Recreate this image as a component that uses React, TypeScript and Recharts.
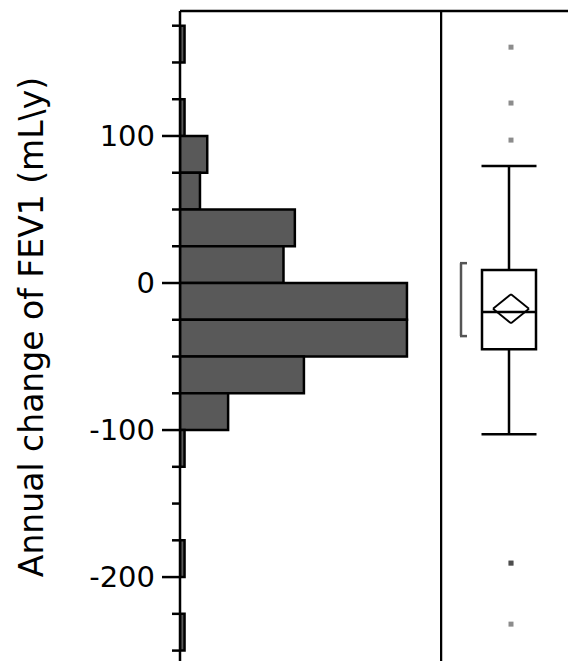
import React from "react";
import { ComposedChart, Bar, XAxis, YAxis, Scatter, ReferenceLine, ReferenceArea } from "recharts";

// histogram bins (25 mL/y wide), listed top to bottom
const binMids = [162.5, 137.5, 112.5, 87.5, 62.5, 37.5, 12.5, -12.5, -37.5, -62.5, -87.5, -112.5, -137.5, -162.5, -187.5, -212.5, -237.5];
const binCounts = [1, 0, 1, 6, 4.4, 25.3, 22.8, 50, 50, 27.3, 10.6, 1, 0, 0, 1, 0, 1];

const yTicks = [175, 150, 125, 100, 75, 50, 25, 0, -25, -50, -75, -100, -125, -150, -175, -200, -225, -250];

// box plot summary
const whiskerHigh = 79.5;
const q3 = 8.8;
const median = -19.8;
const q1 = -45;
const whiskerLow = -102.8;
const meanValue = -17.5;
const meanCiHigh = -7.6;
const meanCiLow = -27.4;
const shortestHalf = [13.5, -36.1];
const outliers = [160.4, 122.4, 97.2, -190.5, -190.5, -232];

const Y_DOMAIN: [number, number] = [-270, 185];
const FONT = "DejaVu Sans";
const LW = 2.5;

const histData = binMids.map((mid, i) => ({ mid, count: binCounts[i] }));

function LeftTick(props: any) {
  const { x, y, payload } = props;
  const v = payload.value;
  const major = v % 100 === 0;
  return (
    <g>
      <line x1={x - (major ? 18 : 8)} x2={x} y1={y} y2={y} stroke="#000" strokeWidth={LW} />
      {major && (
        <text x={x - 25} y={y} textAnchor="end" dominantBaseline="central" fontSize={29} fontFamily={FONT} fill="#000">
          {v}
        </text>
      )}
    </g>
  );
}

const axisLabel = () => (
  <text
    x={43}
    y={327}
    transform="rotate(-90, 43, 327)"
    textAnchor="middle"
    fontSize={33}
    fontFamily={FONT}
    fill="#000"
  >
    {"Annual change of FEV1 (mL\\y)"}
  </text>
);

const OutlierMark = (props: any) => (
  <rect x={props.cx - 2.5} y={props.cy - 2.5} width={5} height={5} fill="#000" fillOpacity={0.45} />
);

export default function App() {
  const boxX = 68;
  const markX = 70;
  const boxHalf = 27;
  const capHalf = 27.5;
  const diamondHalf = 18;
  const outlierData = outliers.map((y) => ({ x: markX, y }));
  const frame = { stroke: "#000", strokeWidth: LW };

  return (
    <div
      style={{
        position: "absolute",
        left: 0,
        top: 0,
        width: 568,
        height: 661,
        overflow: "hidden",
        background: "#fff",
      }}
    >
      <div style={{ position: "absolute", left: 0, top: 0 }}>
        <ComposedChart
          width={442}
          height={680}
          layout="vertical"
          data={histData}
          margin={{ top: 11, right: 1, bottom: 0, left: 0 }}
        >
          <XAxis type="number" domain={[0, 57.5]} allowDataOverflow hide />
          <YAxis
            type="number"
            dataKey="mid"
            domain={Y_DOMAIN}
            allowDataOverflow
            reversed
            width={180}
            ticks={yTicks}
            interval={0}
            tickSize={0}
            tickMargin={0}
            tickLine={false}
            tick={<LeftTick />}
            axisLine={false}
            label={axisLabel}
          />
          <Bar
            dataKey="count"
            barSize={36.75}
            fill="#595959"
            stroke="#000"
            strokeWidth={LW}
            isAnimationActive={false}
          />
          <ReferenceLine x={0} {...frame} />
          <ReferenceLine y={Y_DOMAIN[1]} {...frame} />
        </ComposedChart>
      </div>

      <div style={{ position: "absolute", left: 440, top: 0 }}>
        <ComposedChart width={142} height={680} margin={{ top: 11, right: 0, bottom: 0, left: 1 }}>
          <XAxis type="number" dataKey="x" domain={[0, 141]} allowDataOverflow hide />
          <YAxis type="number" dataKey="y" domain={Y_DOMAIN} allowDataOverflow hide />
          <ReferenceLine x={0} {...frame} />
          <ReferenceLine y={Y_DOMAIN[1]} {...frame} />
          {/* shortest half bracket */}
          <ReferenceLine segment={[{ x: 20, y: shortestHalf[0] }, { x: 20, y: shortestHalf[1] }]} stroke="#555" strokeWidth={LW} />
          <ReferenceLine segment={[{ x: 19, y: shortestHalf[0] }, { x: 26, y: shortestHalf[0] }]} stroke="#555" strokeWidth={LW} />
          <ReferenceLine segment={[{ x: 19, y: shortestHalf[1] }, { x: 26, y: shortestHalf[1] }]} stroke="#555" strokeWidth={LW} />
          {/* whiskers */}
          <ReferenceLine segment={[{ x: boxX, y: q3 }, { x: boxX, y: whiskerHigh }]} stroke="#000" strokeWidth={LW} />
          <ReferenceLine segment={[{ x: boxX, y: q1 }, { x: boxX, y: whiskerLow }]} stroke="#000" strokeWidth={LW} />
          <ReferenceLine segment={[{ x: boxX - capHalf, y: whiskerHigh }, { x: boxX + capHalf, y: whiskerHigh }]} stroke="#000" strokeWidth={LW} />
          <ReferenceLine segment={[{ x: boxX - capHalf, y: whiskerLow }, { x: boxX + capHalf, y: whiskerLow }]} stroke="#000" strokeWidth={LW} />
          {/* box */}
          <ReferenceArea
            x1={boxX - boxHalf}
            x2={boxX + boxHalf}
            y1={q1}
            y2={q3}
            fill="#fff"
            fillOpacity={1}
            stroke="#000"
            strokeWidth={LW}
          />
          <ReferenceLine segment={[{ x: boxX - boxHalf, y: median }, { x: boxX + boxHalf, y: median }]} stroke="#000" strokeWidth={LW} />
          {/* mean diamond */}
          <ReferenceLine segment={[{ x: markX - diamondHalf, y: meanValue }, { x: markX, y: meanCiHigh }]} stroke="#000" strokeWidth={1.8} />
          <ReferenceLine segment={[{ x: markX, y: meanCiHigh }, { x: markX + diamondHalf, y: meanValue }]} stroke="#000" strokeWidth={1.8} />
          <ReferenceLine segment={[{ x: markX + diamondHalf, y: meanValue }, { x: markX, y: meanCiLow }]} stroke="#000" strokeWidth={1.8} />
          <ReferenceLine segment={[{ x: markX, y: meanCiLow }, { x: markX - diamondHalf, y: meanValue }]} stroke="#000" strokeWidth={1.8} />
          <Scatter data={outlierData} shape={<OutlierMark />} isAnimationActive={false} />
        </ComposedChart>
      </div>
    </div>
  );
}
